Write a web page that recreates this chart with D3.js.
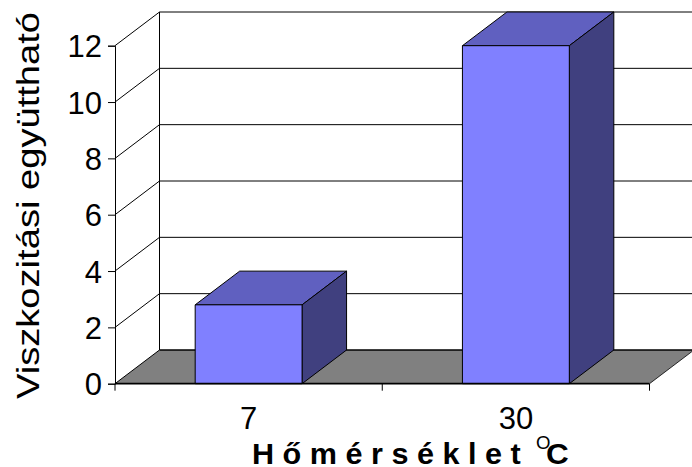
<!DOCTYPE html>
<html><head><meta charset="utf-8">
<script src="https://cdn.jsdelivr.net/npm/d3@7"></script>
<style>html,body{margin:0;padding:0;background:#fff}svg{display:block}text{font-family:"Liberation Sans",Arial,sans-serif;fill:#000}</style>
</head><body><svg id="c" width="692" height="467"></svg>
<script>
const categories = ["7", "30"];
const values = [2.8, 12];
const yTicks = [0, 2, 4, 6, 8, 10, 12];
const yTitle = "Viszkozitási együttható";
const xTitle = "H ő m é r s é k l e t";

const svg = d3.select("#c");
const dx = 44.5, dy = -33.7;
const x = d3.scaleBand().domain(categories).range([115, 649.5]).paddingInner(0.6).paddingOuter(0.3);
const y = d3.scaleLinear().domain([0, 12]).range([383.7, 45.7]);
const x0 = 115, x1 = 649.5, y0 = y(0);
const poly = p => p.map(d => d.join(",")).join(" ");

// floor
svg.append("polygon").attr("points", poly([[x0,y0],[x0+dx,y0+dy],[x1+dx,y0+dy],[x1,y0]])).attr("fill", "#808080");
svg.append("line").attr("x1", x0+dx).attr("x2", x1+dx).attr("y1", y0+dy).attr("y2", y0+dy).attr("stroke", "#000").attr("stroke-width", 1.6);
svg.append("line").attr("x1", x1).attr("x2", x1+dx).attr("y1", y0).attr("y2", y0+dy).attr("stroke", "#000").attr("stroke-width", 0.8);

// gridlines on walls
yTicks.slice(1).forEach(t => {
  const g = svg.append("g").attr("stroke", "#000").attr("stroke-width", 1);
  g.append("line").attr("x1", x0).attr("y1", y(t)).attr("x2", x0+dx).attr("y2", y(t)+dy);
  g.append("line").attr("x1", x0+dx).attr("y1", y(t)+dy).attr("x2", x1+dx).attr("y2", y(t)+dy);
});
svg.append("line").attr("x1", x0).attr("y1", y0).attr("x2", x0+dx).attr("y2", y0+dy).attr("stroke", "#000").attr("stroke-width", 1);
svg.append("line").attr("x1", x0+dx).attr("x2", x0+dx).attr("y1", y(12)+dy).attr("y2", y0+dy).attr("stroke", "#000").attr("stroke-width", 1);

// bars
const bars = svg.selectAll("g.bar").data(categories.map((c, i) => ({c, v: values[i]}))).join("g").attr("class", "bar")
  .attr("stroke", "#000").attr("stroke-width", 1).attr("stroke-linejoin", "round");
bars.append("polygon").attr("fill", "#6060C0").attr("points", d => { const a=x(d.c), b=a+x.bandwidth(), t=y(d.v);
  return poly([[a,t],[a+dx,t+dy],[b+dx,t+dy],[b,t]]); });
bars.append("polygon").attr("fill", "#40407F").attr("points", d => { const b=x(d.c)+x.bandwidth(), t=y(d.v);
  return poly([[b,t],[b+dx,t+dy],[b+dx,y0+dy],[b,y0]]); });
bars.append("rect").attr("fill", "#8080FF").attr("x", d => x(d.c)).attr("y", d => y(d.v)).attr("width", x.bandwidth()).attr("height", d => y0 - y(d.v));

// axes
const yAxis = d3.axisLeft(y).tickValues(yTicks).tickSize(7).tickPadding(6).tickFormat(d3.format("d"));
const gy = svg.append("g").attr("transform", `translate(${x0},0)`).call(yAxis);
gy.selectAll("text").attr("font-size", 31).attr("dy", "0.355em").style("font-family", '"Liberation Sans"');
gy.selectAll("line,path").attr("stroke", "#000");

const xAxis = d3.axisBottom(x).tickSize(0).tickPadding(23);
const gx = svg.append("g").attr("transform", `translate(0,${y0})`).call(xAxis);
gx.select("path").remove();
gx.selectAll("text").attr("font-size", 31).style("font-family", '"Liberation Sans"');
svg.append("line").attr("x1", x0).attr("x2", x1).attr("y1", y0).attr("y2", y0).attr("stroke", "#000").attr("stroke-width", 1.8);
const edges = [x0, x(categories[1]) - x.step()*0.3, x1];
svg.selectAll("line.xt").data(edges).join("line").attr("class","xt").attr("x1", d=>d).attr("x2", d=>d).attr("y1", y0).attr("y2", y0+7).attr("stroke", "#000");

// titles
svg.append("text").attr("transform", "translate(38.5,205.5) rotate(-90) scale(1.23,1)").attr("text-anchor", "middle").attr("font-size", 31).text(yTitle);
svg.append("text").attr("transform", "translate(252,464) scale(1.02,1)").attr("font-size", 30).attr("font-weight", "bold").text(xTitle);
svg.append("text").attr("x", 536).attr("y", 449).attr("font-size", 18.6).text("O");
svg.append("text").attr("transform", "translate(546,464) scale(1.05,1)").attr("font-size", 30).attr("font-weight", "bold").text("C");
</script></body></html>
